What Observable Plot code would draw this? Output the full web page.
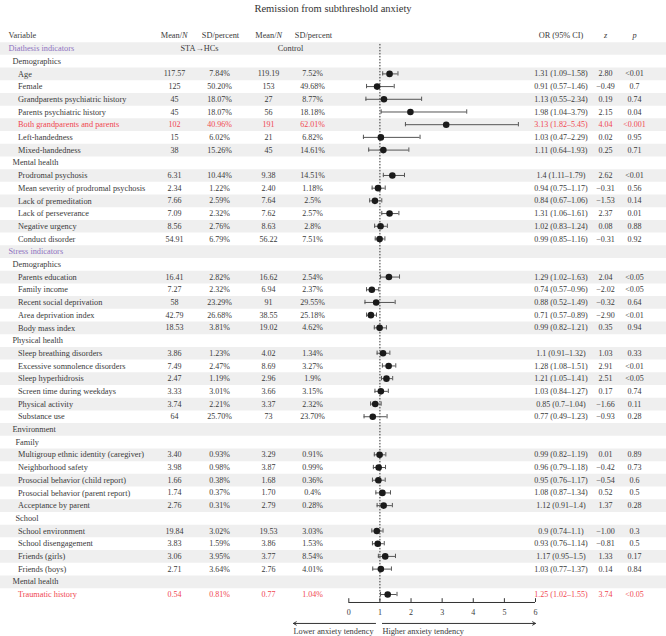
<!DOCTYPE html>
<html>
<head>
<meta charset="utf-8">
<script src="https://cdn.jsdelivr.net/npm/d3@7"></script>
<script src="https://cdn.jsdelivr.net/npm/@observablehq/plot@0.6"></script>
<style>
  body { margin: 0; background: #fff; font-family: "Liberation Serif", serif; color: #333; }
  #title { height: 18px; line-height: 17px; text-align: center; font-size: 10.5px; }
</style>
</head>
<body>
<div id="title">Remission from subthreshold anxiety</div>
<div id="chart"></div>
<script>
// Table rows, top to bottom
const variables = [
  "Diathesis indicators", "Demographics", "Age", "Female", "Grandparents psychiatric history",
  "Parents psychiatric history", "Both grandparents and parents", "Left-handedness", "Mixed-handedness",
  "Mental health", "Prodromal psychosis", "Mean severity of prodromal psychosis", "Lack of premeditation",
  "Lack of perseverance", "Negative urgency", "Conduct disorder",
  "Stress indicators", "Demographics", "Parents education", "Family income", "Recent social deprivation",
  "Area deprivation index", "Body mass index",
  "Physical health", "Sleep breathing disorders", "Excessive somnolence disorders", "Sleep hyperhidrosis",
  "Screen time during weekdays", "Physical activity", "Substance use",
  "Environment", "Family", "Multigroup ethnic identity (caregiver)", "Neighborhood safety",
  "Prosocial behavior (child report)", "Prosocial behavior (parent report)", "Acceptance by parent",
  "School", "School environment", "School disengagement", "Friends (girls)", "Friends (boys)",
  "Mental health", "Traumatic history"
];
const kinds = [
  "section", "group", "item", "item", "item", "item", "item", "item", "item",
  "group", "item", "item", "item", "item", "item", "item",
  "section", "group", "item", "item", "item", "item", "item",
  "group", "item", "item", "item", "item", "item", "item",
  "group", "subgroup", "item", "item", "item", "item", "item",
  "subgroup", "item", "item", "item", "item",
  "group", "item"
];
const significantRows = [6, 43];
const groupNames = ["STA→HCs", "Control"];

// STA→HCs group
const meanSTA = ["", "", "117.57", "125", "45", "45", "102", "15", "38",
  "", "6.31", "2.34", "7.66", "7.09", "8.56", "54.91",
  "", "", "16.41", "7.27", "58", "42.79", "18.53",
  "", "3.86", "7.49", "2.47", "3.33", "3.74", "64",
  "", "", "3.40", "3.98", "1.66", "1.74", "2.76",
  "", "19.84", "3.83", "3.06", "2.71",
  "", "0.54"];
const sdSTA = ["", "", "7.84%", "50.20%", "18.07%", "18.07%", "40.96%", "6.02%", "15.26%",
  "", "10.44%", "1.22%", "2.59%", "2.32%", "2.76%", "6.79%",
  "", "", "2.82%", "2.32%", "23.29%", "26.68%", "3.81%",
  "", "1.23%", "2.47%", "1.19%", "3.01%", "2.21%", "25.70%",
  "", "", "0.93%", "0.98%", "0.38%", "0.37%", "0.31%",
  "", "3.02%", "1.59%", "3.95%", "3.64%",
  "", "0.81%"];
// Control group
const meanControl = ["", "", "119.19", "153", "27", "56", "191", "21", "45",
  "", "9.38", "2.40", "7.64", "7.62", "8.63", "56.22",
  "", "", "16.62", "6.94", "91", "38.55", "19.02",
  "", "4.02", "8.69", "2.96", "3.66", "3.37", "73",
  "", "", "3.29", "3.87", "1.68", "1.70", "2.79",
  "", "19.53", "3.86", "3.77", "2.76",
  "", "0.77"];
const sdControl = ["", "", "7.52%", "49.68%", "8.77%", "18.18%", "62.01%", "6.82%", "14.61%",
  "", "14.51%", "1.18%", "2.5%", "2.57%", "2.8%", "7.51%",
  "", "", "2.54%", "2.37%", "29.55%", "25.18%", "4.62%",
  "", "1.34%", "3.27%", "1.9%", "3.15%", "2.32%", "23.70%",
  "", "", "0.91%", "0.99%", "0.36%", "0.4%", "0.28%",
  "", "3.03%", "1.53%", "8.54%", "4.01%",
  "", "1.04%"];

// Odds ratios with 95% CI
const oddsRatio = [null, null, 1.31, 0.91, 1.13, 1.98, 3.13, 1.03, 1.11,
  null, 1.4, 0.94, 0.84, 1.31, 1.02, 0.99,
  null, null, 1.29, 0.74, 0.88, 0.71, 0.99,
  null, 1.1, 1.28, 1.21, 1.03, 0.85, 0.77,
  null, null, 0.99, 0.96, 0.95, 1.08, 1.12,
  null, 0.9, 0.93, 1.17, 1.03,
  null, 1.25];
const ciLow = [null, null, 1.09, 0.57, 0.55, 1.04, 1.82, 0.47, 0.64,
  null, 1.11, 0.75, 0.67, 1.06, 0.83, 0.85,
  null, null, 1.02, 0.57, 0.52, 0.57, 0.82,
  null, 0.91, 1.08, 1.05, 0.84, 0.7, 0.49,
  null, null, 0.82, 0.79, 0.76, 0.87, 0.91,
  null, 0.74, 0.76, 0.95, 0.77,
  null, 1.02];
const ciHigh = [null, null, 1.58, 1.46, 2.34, 3.79, 5.45, 2.29, 1.93,
  null, 1.79, 1.17, 1.06, 1.61, 1.24, 1.16,
  null, null, 1.63, 0.96, 1.49, 0.89, 1.21,
  null, 1.32, 1.51, 1.41, 1.27, 1.04, 1.23,
  null, null, 1.19, 1.18, 1.17, 1.34, 1.4,
  null, 1.1, 1.14, 1.5, 1.37,
  null, 1.55];
const zValues = ["", "", "2.80", "−0.49", "0.19", "2.15", "4.04", "0.02", "0.25",
  "", "2.62", "−0.31", "−1.53", "2.37", "0.08", "−0.31",
  "", "", "2.04", "−2.02", "−0.32", "−2.90", "0.35",
  "", "1.03", "2.91", "2.51", "0.17", "−1.66", "−0.93",
  "", "", "0.01", "−0.42", "−0.54", "0.52", "1.37",
  "", "−1.00", "−0.81", "1.33", "0.14",
  "", "3.74"];
const pValues = ["", "", "<0.01", "0.7", "0.74", "0.04", "<0.001", "0.95", "0.71",
  "", "<0.01", "0.56", "0.14", "0.01", "0.88", "0.92",
  "", "", "<0.05", "<0.05", "0.64", "<0.01", "0.94",
  "", "0.33", "<0.01", "<0.05", "0.74", "0.11", "0.28",
  "", "", "0.89", "0.73", "0.6", "0.5", "0.28",
  "", "0.3", "0.5", "0.17", "0.84",
  "", "<0.05"];

const xTicks = [0, 1, 2, 3, 4, 5, 6];
const directionLabels = ["Lower anxiety tendency", "Higher anxiety tendency"];

// ---- layout ----
const W = 666, H = 618;
const rowStep = (576 - 30) / 43;
const axisRow = 43.63;          // row coordinate of the OR axis line
const arrowRow = 45.28, arrowLabelRow = 45.92;
const textColor = "#3a3a3a", sectionColor = "#8e72c0", alertColor = "#f0464f", stripeColor = "#efefef";
const labelSize = 8.3, numberSize = 8;
const indent = {section: 8, group: 12, subgroup: 15, item: 17.5};
const col = {meanA: 174, sdA: 219, meanB: 268, sdB: 312, or: 560.5, z: 605, p: 634, groupA: 199, groupB: 290};

const rows = variables.map((label, i) => ({
  row: i, label, kind: kinds[i],
  meanA: meanSTA[i], sdA: sdSTA[i], meanB: meanControl[i], sdB: sdControl[i],
  or: oddsRatio[i], lo: ciLow[i], hi: ciHigh[i], z: zValues[i], p: pValues[i],
  alert: significantRows.includes(i)
}));
const items = rows.filter(d => d.or != null);
const stripes = rows.filter(d => d.row % 2 === 0);
const rowColor = d => d.alert ? alertColor : d.kind === "section" ? sectionColor : textColor;

const columnText = (field, dx) => Plot.text(items, {
  y: "row", text: field, frameAnchor: "left", dx, textAnchor: "middle",
  fill: rowColor, fontSize: numberSize
});
const header = (text, dx, opts = {}) => Plot.text([text], {
  y: -1, text: d => d, frameAnchor: "left", dx, textAnchor: "middle",
  fill: textColor, fontSize: labelSize, ...opts
});
const labelText = kind => Plot.text(rows.filter(d => d.kind === kind), {
  y: "row", text: "label", frameAnchor: "left", textAnchor: "start",
  dx: indent[kind], fill: rowColor, fontSize: labelSize
});

const chart = Plot.plot({
  width: W, height: H,
  marginLeft: 0, marginRight: 0, marginTop: 0, marginBottom: H - 584,
  x: {domain: [0, 6], range: [348.3, 535]},
  y: {domain: [0, 43], range: [30, 576], axis: null},
  color: {type: "identity"},
  style: {fontFamily: "'Liberation Serif', serif", fontSize: "8px", color: textColor, background: "#fff"},
  marks: [
    // zebra stripes
    Plot.ruleY(stripes, {y: "row", stroke: stripeColor, strokeWidth: rowStep}),

    // header row
    header("Variable", 8, {textAnchor: "start"}),
    header("Mean/", col.meanA + 7.5, {textAnchor: "end"}),
    header("N", col.meanA + 7.5, {textAnchor: "start", fontStyle: "italic"}),
    header("SD/percent", col.sdA + 1),
    header("Mean/", col.meanB + 8, {textAnchor: "end"}),
    header("N", col.meanB + 8, {textAnchor: "start", fontStyle: "italic"}),
    header("SD/percent", col.sdB + 1),
    header("OR (95% CI)", col.or),
    header("z", col.z, {fontStyle: "italic"}),
    header("p", col.p, {fontStyle: "italic"}),
    Plot.text([groupNames[0]], {y: 0, text: d => d, frameAnchor: "left", dx: col.groupA, textAnchor: "middle", fill: textColor, fontSize: labelSize}),
    Plot.text([groupNames[1]], {y: 0, text: d => d, frameAnchor: "left", dx: col.groupB, textAnchor: "middle", fill: textColor, fontSize: labelSize}),

    // variable names, indented by level
    labelText("section"),
    labelText("group"),
    labelText("subgroup"),
    labelText("item"),

    // numeric columns
    columnText("meanA", col.meanA),
    columnText("sdA", col.sdA),
    columnText("meanB", col.meanB),
    columnText("sdB", col.sdB),
    columnText(d => `${d.or} (${d.lo}–${d.hi})`, col.or),
    columnText("z", col.z),
    columnText("p", col.p),

    // reference line at OR = 1
    Plot.ruleX([1], {y1: -0.32, y2: axisRow, stroke: "#333", strokeDasharray: "1.5,1.5"}),

    // confidence intervals with caps, point estimates
    Plot.ruleY(items, {y: "row", x1: "lo", x2: "hi", stroke: "#555", strokeWidth: 1}),
    Plot.ruleX(items, {x: "lo", y1: d => d.row - 0.17, y2: d => d.row + 0.17, stroke: "#555"}),
    Plot.ruleX(items, {x: "hi", y1: d => d.row - 0.17, y2: d => d.row + 0.17, stroke: "#555"}),
    Plot.dot(items, {x: "or", y: "row", r: 3.3, fill: "#1a1a1a"}),

    // OR axis
    Plot.ruleY([axisRow], {x1: 0, x2: 6, stroke: "#333"}),
    Plot.ruleX(xTicks, {x: d => d, y1: axisRow - 0.3, y2: axisRow, stroke: "#333"}),
    Plot.axisX({ticks: xTicks, anchor: "bottom", tickSize: 0, tickPadding: 7, tickFormat: d => String(d), fill: textColor, fontSize: numberSize}),

    // direction arrows
    Plot.arrow([{x1: 0.86, x2: -1.78}, {x1: 1.08, x2: 6}], {
      x1: "x1", x2: "x2", y1: arrowRow, y2: arrowRow, stroke: "#333", strokeWidth: 1, headLength: 5
    }),
    Plot.text(directionLabels, {
      x: (d, i) => i === 0 ? -1.78 : 1.08, y: arrowLabelRow, text: d => d,
      textAnchor: "start", fill: textColor, fontSize: labelSize
    })
  ]
});

document.getElementById("chart").appendChild(chart);
</script>
</body>
</html>
